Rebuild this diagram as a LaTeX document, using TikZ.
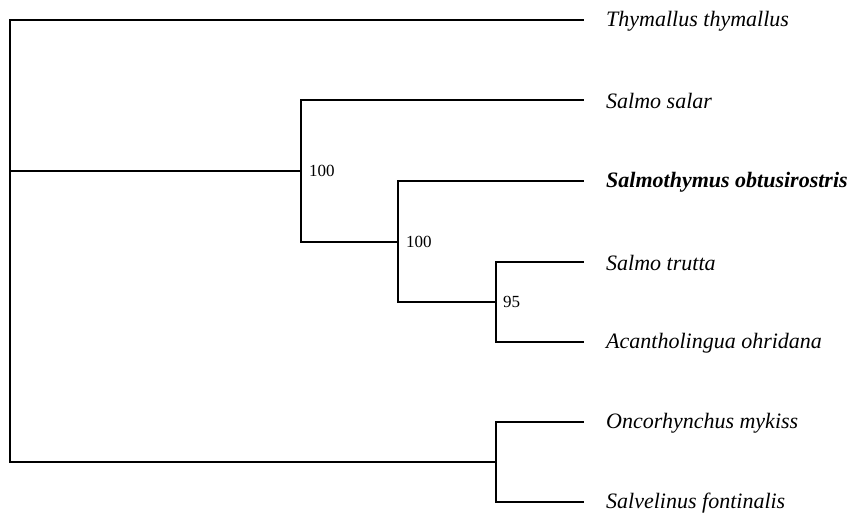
\documentclass[tikz,border=0pt]{standalone}
\usepackage{fontspec}
\setmainfont{Liberation Serif}
\begin{document}
\begin{tikzpicture}[x=1pt,y=-1pt,
  br/.style={line width=1.3pt,line cap=rect},
  taxon/.style={anchor=west,inner sep=0pt,yshift=-1pt,font=\fontsize{22}{22}\selectfont\itshape},
  boot/.style={anchor=west,inner sep=0pt,font=\fontsize{17}{17}\selectfont}]
\useasboundingbox (0,0) rectangle (850,514);
% internal nodes
\coordinate (root) at (10,171);
\coordinate (A) at (301,171);
\coordinate (B) at (398,242);
\coordinate (C) at (496,302);
\coordinate (D) at (496,462);
% tips
\coordinate (t1) at (583,20);
\coordinate (t2) at (583,100);
\coordinate (t3) at (583,181);
\coordinate (t4) at (583,262);
\coordinate (t5) at (583,342);
\coordinate (t6) at (583,422);
\coordinate (t7) at (583,502);
% labels
\node[taxon] (l1) at (606,20) {Thymallus thymallus};
\node[taxon] (l2) at (606,100) {Salmo salar};
\node[taxon,font=\fontsize{22}{22}\selectfont\itshape\bfseries] (l3) at (606,181) {Salmothymus obtusirostris};
\node[taxon] (l4) at (606,262) {Salmo trutta};
\node[taxon] (l5) at (606,342) {Acantholingua ohridana};
\node[taxon] (l6) at (606,422) {Oncorhynchus mykiss};
\node[taxon] (l7) at (606,502) {Salvelinus fontinalis};
\node[boot] (bA) at (309,171) {100};
\node[boot] (bB) at (406,242) {100};
\node[boot] (bC) at (503,302) {95};
% branches
\draw[br] (t1) -| (root |- t1) |- (D);
\draw[br] (root) -- (A);
\draw[br] (t2) -| (A |- t2) |- (B);
\draw[br] (t3) -| (B |- t3) |- (C);
\draw[br] (t4) -| (C |- t4) |- (t5);
\draw[br] (t6) -| (D |- t6) |- (t7);
\end{tikzpicture}
\end{document}
